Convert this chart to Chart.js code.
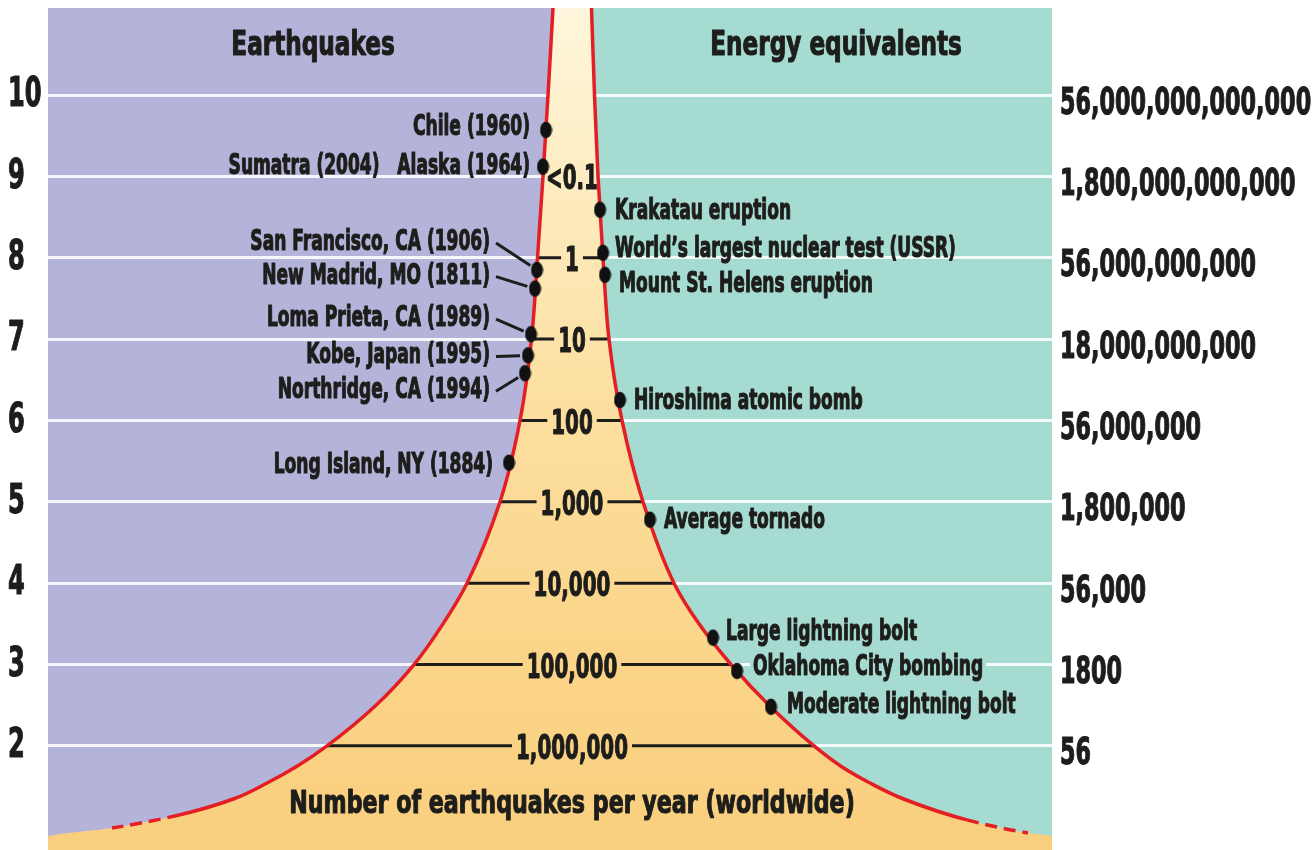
<!DOCTYPE html>
<html>
<head>
<meta charset="utf-8">
<title>Earthquake magnitude, frequency and energy</title>
<script src="https://cdn.jsdelivr.net/npm/chart.js@4/dist/chart.umd.min.js"></script>
<style>
  html, body { margin: 0; padding: 0; background: #ffffff; }
  #wrap { width: 1314px; height: 850px; }
</style>
</head>
<body>
<div id="wrap"><canvas id="chart" width="1314" height="850"></canvas></div>
<script>
// ---- Magnitude scale and the energy equivalent (kg TNT) printed at each step
const magnitudes = [2, 3, 4, 5, 6, 7, 8, 9, 10];
const energyLabels = ['56', '1800', '56,000', '1,800,000', '56,000,000',
  '18,000,000,000', '56,000,000,000', '1,800,000,000,000', '56,000,000,000,000'];

// ---- Earthquakes per year at each magnitude (drawn across the funnel)
const countMags = [9, 8, 7, 6, 5, 4, 3, 2];
const countLabels = ['<0.1', '1', '10', '100', '1,000', '10,000', '100,000', '1,000,000'];

// ---- Funnel outline: magnitude vs. horizontal extent of each edge
const leftMag  = [11.07, 10, 9, 8, 7, 6, 5, 4, 3.5, 3, 2.5, 2, 1.75, 1.55, 1.35, 1.15, 0.99, 0.88, 0.72];
const leftX    = [-1.8, -2.3, -2.8, -3.35, -3.95, -5.1, -7.1, -10.4, -12.8, -15.7, -19.5, -24.4, -27.4, -30.3, -33.7, -39.2, -45.9, -52.3, -52.3];
const rightMag = [11.07, 10, 9, 8, 7, 6, 5, 4, 3.5, 3, 2.5, 2, 1.75, 1.55, 1.35, 1.09, 0.93, 0.89, 0.72];
const rightX   = [2.05, 2.35, 2.7, 3.2, 3.8, 5.1, 7.2, 10.3, 12.8, 16.0, 19.8, 24.3, 27.0, 29.8, 33.2, 39.6, 45.7, 48.1, 48.1];

// ---- Notable earthquakes (left edge)
const quakeNames = ['Chile (1960)', 'Sumatra (2004)   Alaska (1964)', 'San Francisco, CA (1906)',
  'New Madrid, MO (1811)', 'Loma Prieta, CA (1989)', 'Kobe, Japan (1995)',
  'Northridge, CA (1994)', 'Long Island, NY (1884)'];
const quakeMags = [9.57, 9.12, 7.85, 7.62, 7.06, 6.80, 6.58, 5.48];
const quakeX    = [-2.5, -2.8, -3.4, -3.6, -4.0, -4.3, -4.6, -6.2];

// ---- Energy equivalents (right edge)
const energyNames = ['Krakatau eruption', 'World\u2019s largest nuclear test (USSR)',
  'Mount St. Helens eruption', 'Hiroshima atomic bomb', 'Average tornado',
  'Large lightning bolt', 'Oklahoma City bombing', 'Moderate lightning bolt'];
const energyMags = [8.59, 8.06, 7.79, 6.25, 4.78, 3.33, 2.92, 2.48];
const energyX    = [2.9, 3.2, 3.4, 4.9, 7.9, 14.2, 16.6, 20.0];

// ---- Styling / label placement (pixel offsets from each dot)
const FONT = "'DejaVu Sans Condensed', 'DejaVu Sans', sans-serif";
const INK = '#1d1d1b';
const RED = '#e31e24';
const PURPLE = '#b4b4da';
const TEAL = '#a6dbd1';
const SOLID_END = 15;   // last point of the solid red edge
const DASH_END = 16;    // last point of the dashed red edge
// size: font px, k: horizontal squeeze giving a bold condensed face
const TXT = {
  axisLeft:  { size: 40, k: 0.67 },
  axisRight: { size: 37, k: 0.67 },
  title:     { size: 33, k: 0.78 },
  event:     { size: 27.5, k: 0.69 },
  count:     { size: 33, k: 0.67 },
  caption:   { size: 32, k: 0.77 }
};
const quakeLabelPos = [[-16, -5], [-13, -3], [-47, -30], [-45, -15], [-41, -18], [-38, -2], [-35, 15], [-16, 0]];
const quakeLeader = [false, false, true, true, true, true, true, false];
const energyLabelPos = [[15, -1], [12, -6], [14, 7], [14, -1], [14, -2], [13, -8], [16, -6], [16, -4]];
const energyLabelBox = [false, false, false, false, false, false, true, false];

const toPoints = (xs, ms) => ms.map((m, i) => ({ x: xs[i], y: m }));

// Draws condensed, heavy bold text
function squeezeText(ctx, text, x, y, align, st) {
  ctx.save();
  ctx.font = `bold ${st.size}px ${FONT}`;
  ctx.textAlign = align;
  ctx.textBaseline = 'alphabetic';
  ctx.translate(x, y);
  ctx.scale(st.k, 1);
  ctx.fillStyle = INK;
  ctx.strokeStyle = INK;
  ctx.lineWidth = 1.1;
  ctx.lineJoin = 'round';
  ctx.fillText(text, 0, 0);
  ctx.strokeText(text, 0, 0);
  ctx.restore();
}
function squeezeWidth(ctx, text, st) {
  ctx.save();
  ctx.font = `bold ${st.size}px ${FONT}`;
  const w = ctx.measureText(text).width * st.k;
  ctx.restore();
  return w;
}
const capMid = st => 0.365 * st.size;   // baseline shift that centres capitals on y

// Elliptical marker used for the event dots
const dot = document.createElement('canvas');
dot.width = 13; dot.height = 18;
(function () {
  const c = dot.getContext('2d');
  c.fillStyle = '#111111';
  c.beginPath();
  c.ellipse(6.5, 9, 6, 8.3, 0, 0, Math.PI * 2);
  c.fill();
})();

function funnelGradient(context) {
  const chart = context.chart;
  const a = chart.chartArea;
  if (!a) return '#fbd996';
  const g = chart.ctx.createLinearGradient(0, a.top, 0, a.bottom);
  g.addColorStop(0, '#fef6dc');
  g.addColorStop(0.15, '#fdefc8');
  g.addColorStop(0.45, '#fce0a2');
  g.addColorStop(0.75, '#fbd58a');
  g.addColorStop(1, '#f9cf7e');
  return g;
}

const edgeSegment = {
  borderColor: c => (c.p0DataIndex >= DASH_END ? 'rgba(0,0,0,0)' : RED),
  borderDash: c => (c.p0DataIndex >= SOLID_END ? [12, 7] : undefined)
};

// Coloured panels behind the plot
const panels = {
  id: 'panels',
  beforeDraw(chart) {
    const { ctx, chartArea: a } = chart;
    const mid = chart.scales.x.getPixelForValue(0);
    ctx.save();
    ctx.fillStyle = PURPLE;
    ctx.fillRect(a.left, a.top, mid - a.left, a.bottom - a.top);
    ctx.fillStyle = TEAL;
    ctx.fillRect(mid, a.top, a.right - mid, a.bottom - a.top);
    ctx.restore();
  }
};

// Tick labels of both magnitude axes, in the condensed face
const axisLabels = {
  id: 'axisLabels',
  afterDraw(chart) {
    const { ctx } = chart;
    const yl = chart.scales.y, yr = chart.scales.y2;
    yl.ticks.forEach(t => {
      const y = yl.getPixelForValue(t.value);
      squeezeText(ctx, String(t.label), yl.left, y - 3.5 + capMid(TXT.axisLeft), 'left', TXT.axisLeft);
    });
    yr.ticks.forEach(t => {
      const y = yr.getPixelForValue(t.value);
      squeezeText(ctx, String(t.label), yr.left + 8, y + 5 + capMid(TXT.axisRight), 'left', TXT.axisRight);
    });
  }
};

// Frequency bands across the funnel, drawn right after the funnel fill
const bands = {
  id: 'bands',
  afterDatasetDraw(chart, args) {
    if (args.index !== 0) return;
    const { ctx } = chart;
    const sx = chart.scales.x, sy = chart.scales.y;
    ctx.save();
    ctx.strokeStyle = INK;
    ctx.lineWidth = 3;
    countMags.forEach((m, i) => {
      const xl = sx.getPixelForValue(leftX[leftMag.indexOf(m)]);
      const xr = sx.getPixelForValue(rightX[rightMag.indexOf(m)]);
      const y = sy.getPixelForValue(m);
      const cx = sx.getPixelForValue(0.1);
      const w = squeezeWidth(ctx, countLabels[i], TXT.count);
      const g0 = cx - w / 2 - 4, g1 = cx + w / 2 + 4;
      ctx.beginPath();
      if (g0 > xl) { ctx.moveTo(xl, y); ctx.lineTo(g0, y); }
      if (xr > g1) { ctx.moveTo(g1, y); ctx.lineTo(xr, y); }
      ctx.stroke();
      squeezeText(ctx, countLabels[i], cx, y + 1 + capMid(TXT.count), 'center', TXT.count);
    });
    ctx.restore();
  }
};

// Event labels, leader lines and panel titles
const annotations = {
  id: 'annotations',
  afterDatasetsDraw(chart) {
    const { ctx, chartArea: a } = chart;
    const sx = chart.scales.x, sy = chart.scales.y;
    const ev = TXT.event;
    ctx.save();
    ctx.strokeStyle = INK;
    ctx.lineWidth = 3;

    quakeNames.forEach((name, i) => {
      const dx = sx.getPixelForValue(quakeX[i]);
      const dy = sy.getPixelForValue(quakeMags[i]);
      const lx = dx + quakeLabelPos[i][0];
      const ly = dy + quakeLabelPos[i][1];
      squeezeText(ctx, name, lx, ly + capMid(ev), 'right', ev);
      if (quakeLeader[i]) {
        const x0 = lx + 6, y0 = ly + 3;
        const vx = dx - x0, vy = dy - y0;
        const len = Math.hypot(vx, vy);
        const x1 = dx - vx / len * 8, y1 = dy - vy / len * 8;
        ctx.beginPath();
        ctx.moveTo(x0, y0);
        ctx.lineTo(x1, y1);
        ctx.stroke();
      }
    });

    energyNames.forEach((name, i) => {
      const dx = sx.getPixelForValue(energyX[i]);
      const dy = sy.getPixelForValue(energyMags[i]);
      const lx = dx + energyLabelPos[i][0];
      const ly = dy + energyLabelPos[i][1];
      if (energyLabelBox[i]) {
        const w = squeezeWidth(ctx, name, ev);
        ctx.fillStyle = TEAL;
        ctx.fillRect(lx - 3, ly - 13, w + 6, 28);
      }
      squeezeText(ctx, name, lx, ly + capMid(ev), 'left', ev);
    });

    // Panel titles and funnel caption
    squeezeText(ctx, 'Earthquakes', a.left + 265, 55, 'center', TXT.title);
    squeezeText(ctx, 'Energy equivalents', a.left + 788, 55, 'center', TXT.title);
    squeezeText(ctx, 'Number of earthquakes per year (worldwide)', sx.getPixelForValue(0.1), 813, 'center', TXT.caption);
    ctx.restore();
  }
};

new Chart(document.getElementById('chart'), {
  type: 'line',
  data: {
    datasets: [
      { // funnel fill between the two edges
        data: toPoints(leftX, leftMag),
        fill: '+1',
        backgroundColor: funnelGradient,
        borderWidth: 0,
        pointRadius: 0,
        cubicInterpolationMode: 'monotone',
        order: 3
      },
      {
        data: toPoints(rightX, rightMag),
        fill: false,
        borderWidth: 0,
        pointRadius: 0,
        cubicInterpolationMode: 'monotone',
        order: 3
      },
      { // red outline, left
        data: toPoints(leftX, leftMag),
        fill: false,
        borderColor: RED,
        borderWidth: 3.5,
        pointRadius: 0,
        cubicInterpolationMode: 'monotone',
        segment: edgeSegment,
        order: 2
      },
      { // red outline, right
        data: toPoints(rightX, rightMag),
        fill: false,
        borderColor: RED,
        borderWidth: 3.5,
        pointRadius: 0,
        cubicInterpolationMode: 'monotone',
        segment: edgeSegment,
        order: 2
      },
      { // historic earthquakes
        data: toPoints(quakeX, quakeMags),
        showLine: false,
        pointStyle: dot,
        pointRadius: 6,
        order: 1
      },
      { // energy equivalents
        data: toPoints(energyX, energyMags),
        showLine: false,
        pointStyle: dot,
        pointRadius: 6,
        order: 1
      }
    ]
  },
  options: {
    indexAxis: 'y',
    responsive: false,
    animation: false,
    events: [],
    layout: { autoPadding: false, padding: { left: 8, top: 8, right: 0, bottom: 0 } },
    plugins: {
      legend: { display: false },
      tooltip: { enabled: false },
      title: { display: false }
    },
    scales: {
      x: {
        type: 'linear',
        min: -52.3,
        max: 48.1,
        display: false
      },
      y: {
        type: 'linear',
        position: 'left',
        min: 0.72,
        max: 11.07,
        afterBuildTicks: s => { s.ticks = magnitudes.map(v => ({ value: v })); },
        afterFit: s => { s.width = 40; },
        border: { display: false },
        grid: {
          color: 'rgba(255,255,255,0.88)',
          lineWidth: 3,
          drawTicks: false
        },
        ticks: { display: false, callback: v => String(v) }
      },
      y2: {
        type: 'linear',
        position: 'right',
        min: 0.72,
        max: 11.07,
        afterBuildTicks: s => { s.ticks = magnitudes.map(v => ({ value: v })); },
        afterFit: s => { s.width = 262; },
        border: { display: false },
        grid: { display: false, drawTicks: false },
        ticks: { display: false, callback: (v, i) => energyLabels[i] }
      }
    }
  },
  plugins: [panels, bands, annotations, axisLabels]
});
</script>
</body>
</html>
